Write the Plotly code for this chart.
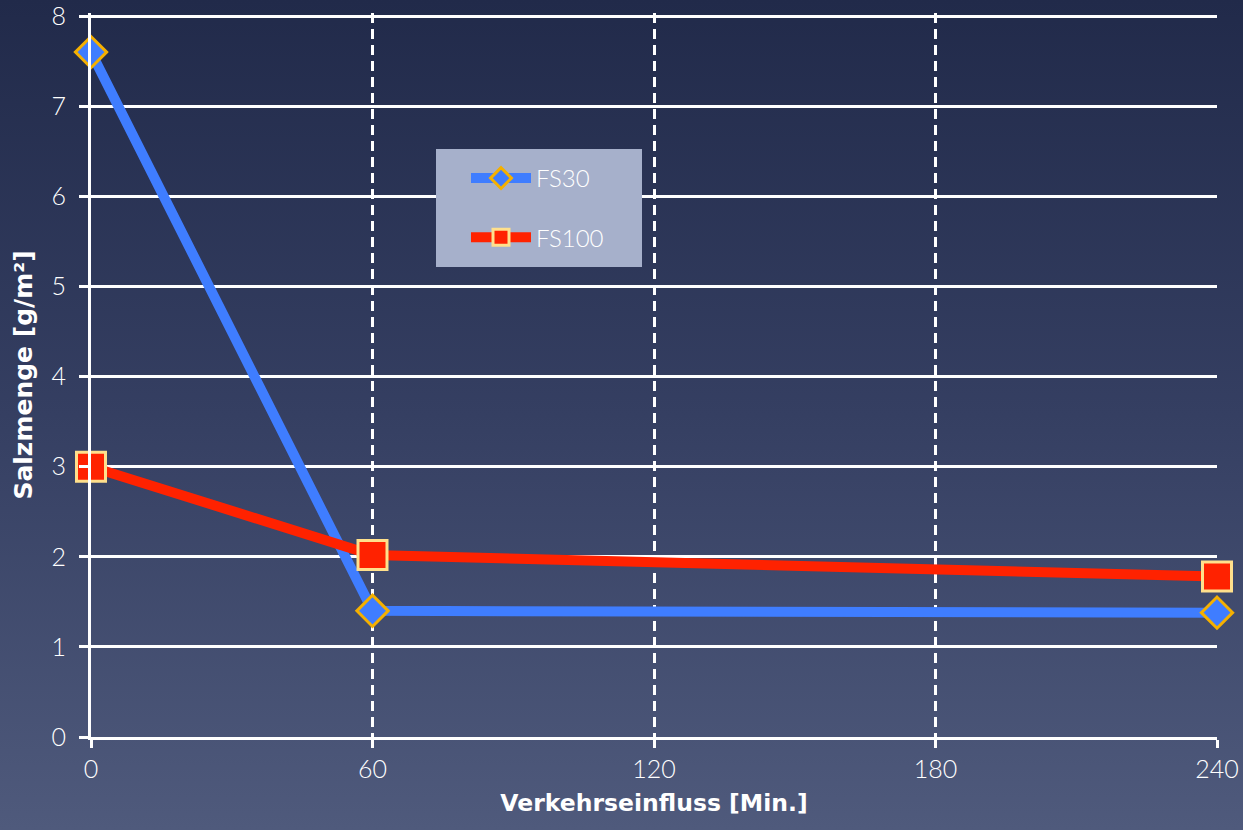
import base64
import plotly.graph_objects as go

minutes = [0, 60, 240]
fs30 = [7.6, 1.4, 1.38]
fs100 = [3.0, 2.02, 1.78]
x_ticks = [0, 60, 120, 180, 240]
y_ticks = [0, 1, 2, 3, 4, 5, 6, 7, 8]

W, H = 1243, 830
L, R, T, B = 91, 26, 13, 93
pw, ph = W - L - R, H - T - B


def px_x(px):
    return (px - L) / pw


def px_y(py):
    return (H - B - py) / ph


svg = (
    '<svg xmlns="http://www.w3.org/2000/svg" width="1243" height="830" preserveAspectRatio="none">'
    '<defs><linearGradient id="g" x1="0" y1="0" x2="0" y2="1">'
    '<stop offset="0" stop-color="#212a4a"/>'
    '<stop offset="0.5" stop-color="#353f62"/>'
    '<stop offset="1" stop-color="#4f5a7c"/>'
    '</linearGradient></defs>'
    '<rect width="1243" height="830" fill="url(#g)"/></svg>'
)
bg_src = "data:image/svg+xml;base64," + base64.b64encode(svg.encode()).decode()

fig = go.Figure()
fig.add_trace(go.Scatter(
    x=minutes, y=fs30, name="FS30", mode="lines+markers",
    line=dict(color="#3f7dff", width=10),
    marker=dict(symbol="diamond", size=24, color="#3f7dff",
                line=dict(color="#f5b000", width=3)),
    cliponaxis=False, legendgroup="a",
))
fig.add_trace(go.Scatter(
    x=minutes, y=fs100, name="FS100", mode="lines+markers",
    line=dict(color="#ff2200", width=10),
    marker=dict(symbol="square", size=29, color="#ff2200",
                line=dict(color="#ffe08c", width=3)),
    cliponaxis=False, legendgroup="b",
))

tick_font = dict(family="Lato", size=25, color="white", weight=300)
x_title_font = dict(family="DejaVu Sans", size=23.5, color="white", weight="bold")
y_title_font = dict(family="DejaVu Sans", size=25, color="white", weight="bold")

fig.update_layout(
    width=W, height=H,
    margin=dict(l=L, r=R, t=T, b=B, autoexpand=False),
    paper_bgcolor="#353f62",
    plot_bgcolor="rgba(0,0,0,0)",
    showlegend=True,
    legend=dict(
        x=px_x(466), y=px_y(156), xanchor="left", yanchor="top",
        bgcolor="rgba(0,0,0,0)",
        font=dict(family="Lato", size=24, color="white", weight=300),
        itemwidth=60, tracegroupgap=25, traceorder="grouped", borderwidth=0,
    ),
    shapes=[dict(
        type="rect", xref="paper", yref="paper",
        x0=px_x(436), x1=px_x(642), y0=px_y(267), y1=px_y(149),
        fillcolor="#a6b0cb", line=dict(width=0), layer="above",
    )],
    images=[dict(
        source=bg_src, xref="paper", yref="paper",
        x=-L / pw, y=1 + T / ph, sizex=W / pw, sizey=H / ph,
        xanchor="left", yanchor="top", sizing="stretch", layer="below",
    )],
    xaxis=dict(
        range=[0, 240], tickvals=x_ticks, ticktext=[str(v) for v in x_ticks],
        showgrid=True, gridcolor="white", gridwidth=2.5, griddash="10px,6px",
        showline=True, linecolor="white", linewidth=3,
        ticks="outside", ticklen=8, tickwidth=3, tickcolor="white",
        tickfont=tick_font, zeroline=False, automargin=False,
        ticklabeloverflow="allow",
        title=dict(text="Verkehrseinfluss [Min.]", font=x_title_font, standoff=13),
    ),
    yaxis=dict(
        range=[0, 8.034], tickvals=y_ticks,
        showgrid=True, gridcolor="white", gridwidth=3,
        showline=True, linecolor="white", linewidth=3,
        ticks="outside", ticklen=9, tickwidth=3, tickcolor="white",
        tickfont=tick_font, zeroline=False, ticklabelstandoff=8, automargin=False,
        ticklabeloverflow="allow",
        title=dict(text="Salzmenge [g/m²]", font=y_title_font, standoff=12),
    ),
)

fig.write_html("out.html")
